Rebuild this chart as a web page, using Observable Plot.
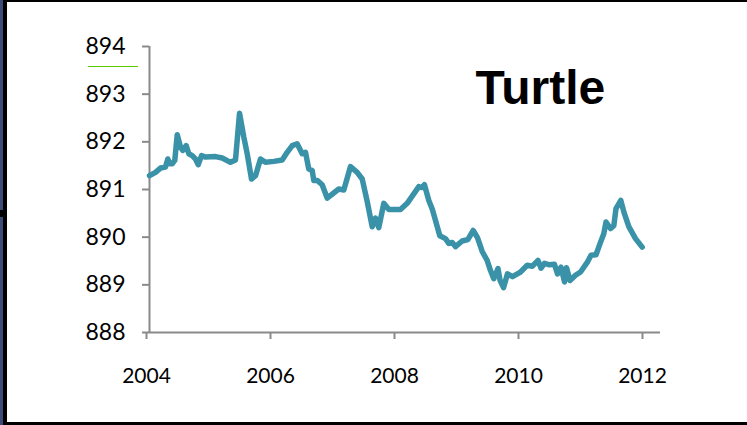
<!DOCTYPE html>
<html>
<head>
<meta charset="utf-8">
<script src="https://cdn.jsdelivr.net/npm/d3@7"></script>
<script src="https://cdn.jsdelivr.net/npm/@observablehq/plot@0.6"></script>
<style>
  html, body { margin: 0; padding: 0; background: #fff; }
  #page { position: relative; width: 747px; height: 425px; overflow: hidden; background: #fff; }
  #page svg { position: absolute; left: 0; top: 0; }
  .edge { position: absolute; }
</style>
</head>
<body>
<div id="page">
  <div class="edge" style="left:0;top:0;width:747px;height:2px;background:#000"></div>
  <div class="edge" style="left:0;top:422px;width:747px;height:3px;background:#000"></div>
  <div class="edge" style="left:0;top:0;width:3px;height:425px;background:#3d4b75"></div>
  <div class="edge" style="left:3px;top:0;width:4px;height:425px;background:#000"></div>
  <div class="edge" style="left:0;top:210px;width:7px;height:7px;background:#000"></div>
  <div class="edge" style="left:88px;top:65.5px;width:50px;height:1px;background:#5ccc00"></div>
</div>
<script>
// Water level readings (decimal year, elevation)
const years = [
  2004.000, 2004.097, 2004.177, 2004.258, 2004.295, 2004.323, 2004.366, 2004.408,
  2004.447, 2004.500, 2004.537, 2004.592, 2004.634, 2004.689, 2004.742, 2004.785,
  2004.839, 2004.903, 2005.065, 2005.173, 2005.306, 2005.387, 2005.452, 2005.521,
  2005.576, 2005.645, 2005.710, 2005.790, 2005.871, 2006.005, 2006.140, 2006.221,
  2006.302, 2006.382, 2006.463, 2006.516, 2006.569, 2006.624, 2006.650, 2006.705,
  2006.785, 2006.866, 2007.053, 2007.134, 2007.242, 2007.350, 2007.431, 2007.511,
  2007.592, 2007.645, 2007.698, 2007.779, 2007.860, 2008.048, 2008.156, 2008.344,
  2008.398, 2008.435, 2008.505, 2008.560, 2008.613, 2008.682, 2008.774, 2008.827,
  2008.882, 2008.935, 2009.043, 2009.134, 2009.221, 2009.290, 2009.366, 2009.447,
  2009.500, 2009.553, 2009.621, 2009.653, 2009.710, 2009.774, 2009.855, 2009.976,
  2010.092, 2010.173, 2010.266, 2010.315, 2010.371, 2010.452, 2010.532, 2010.581,
  2010.637, 2010.694, 2010.726, 2010.782, 2010.871, 2010.952, 2011.060, 2011.121,
  2011.202, 2011.274, 2011.327, 2011.363, 2011.435, 2011.489, 2011.524, 2011.602,
  2011.653, 2011.731, 2011.839, 2011.947
];
const levels = [
  891.29, 891.36, 891.45, 891.47, 891.64, 891.54, 891.54, 891.61,
  892.15, 891.89, 891.82, 891.92, 891.75, 891.71, 891.64, 891.52,
  891.71, 891.68, 891.69, 891.66, 891.57, 891.62, 892.60, 892.10,
  891.75, 891.22, 891.29, 891.64, 891.57, 891.59, 891.62, 891.78,
  891.92, 891.96, 891.75, 891.78, 891.43, 891.40, 891.19, 891.19,
  891.10, 890.82, 891.01, 890.99, 891.48, 891.36, 891.22, 890.75,
  890.22, 890.40, 890.20, 890.71, 890.58, 890.58, 890.71, 891.06,
  891.04, 891.10, 890.77, 890.59, 890.35, 890.03, 889.97, 889.87,
  889.89, 889.80, 889.92, 889.95, 890.14, 889.99, 889.70, 889.51,
  889.30, 889.13, 889.34, 889.10, 888.94, 889.23, 889.17, 889.26,
  889.41, 889.39, 889.51, 889.35, 889.45, 889.42, 889.43, 889.23,
  889.37, 889.06, 889.36, 889.09, 889.20, 889.27, 889.47, 889.62,
  889.63, 889.89, 890.07, 890.32, 890.18, 890.24, 890.60, 890.77,
  890.52, 890.22, 889.97, 889.79
];
const xTicks = [2004, 2006, 2008, 2010, 2012];
const yTicks = [888, 889, 890, 891, 892, 893, 894];
const title = "Turtle";

const series = years.map((t, i) => ({year: t, level: levels[i]}));

const axisGray = "#8a8a8a";

const chart = Plot.plot({
  width: 747,
  height: 425,
  marginLeft: 149,
  marginRight: 87,
  marginTop: 46,
  marginBottom: 93,
  style: {background: "transparent", fontFamily: "Lato, 'Open Sans', sans-serif", color: "#000", overflow: "visible"},
  x: {domain: [2004, 2012.242]},
  y: {domain: [888, 894]},
  marks: [
    Plot.ruleX([2004], {stroke: axisGray, strokeWidth: 2}),
    Plot.ruleY([888], {stroke: axisGray, strokeWidth: 2}),
    Plot.axisY({
      ticks: yTicks, tickFormat: d3.format("d"), tickSize: 7, tickPadding: 17,
      fontSize: 23, stroke: axisGray, strokeWidth: 2, label: null
    }),
    Plot.axisX({
      ticks: xTicks, tickFormat: d3.format("d"), tickSize: 7, tickPadding: 29,
      fontSize: 21, stroke: axisGray, strokeWidth: 2, label: null, dx: -3
    }),
    Plot.line(series, {
      x: "year", y: "level", stroke: "#3a92a8", strokeWidth: 5.5,
      strokeLinejoin: "round", strokeLinecap: "round"
    }),
    Plot.text([title], {
      frameAnchor: "top-left", dx: 326, dy: 42, textAnchor: "start", lineAnchor: "middle",
      fontSize: 48, fontWeight: "bold", fontFamily: "'Liberation Sans', Arial, sans-serif", fill: "#000"
    })
  ]
});

document.getElementById("page").prepend(chart);
</script>
</body>
</html>
